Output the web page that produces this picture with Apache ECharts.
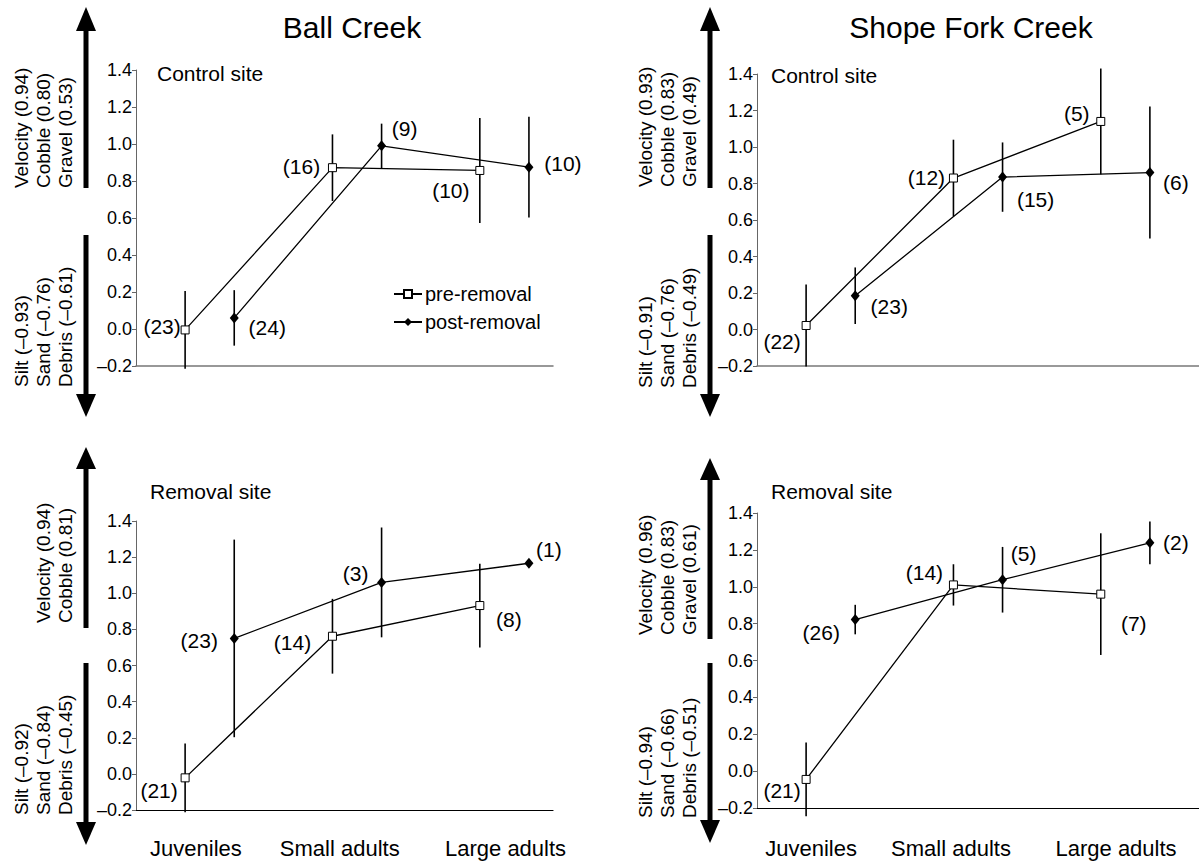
<!DOCTYPE html>
<html>
<head>
<meta charset="utf-8">
<script src="https://cdn.jsdelivr.net/npm/echarts@6/dist/echarts.min.js"></script>
<style>
  html, body { margin: 0; padding: 0; background: #fff; }
  #chart { width: 1199px; height: 861px; }
</style>
</head>
<body>
<div id="chart"></div>
<script>
// ---------------- DATA ----------------
const categories = ['Juveniles', 'Small adults', 'Large adults'];
const seriesNames = ['pre-removal', 'post-removal'];
const yTicks = { min: -0.2, max: 1.4, step: 0.2 };

// Ball Creek – control site
const ballControlPre      = [-0.005, 0.872, 0.857];
const ballControlPreErr   = [0.21, 0.18, 0.284];
const ballControlPost     = [0.06, 0.99, 0.875];
const ballControlPostErr  = [0.15, 0.12, 0.272];
const ballControlNPre     = [23, 16, 10];
const ballControlNPost    = [24, 9, 10];

// Shope Fork Creek – control site
const shopeControlPre     = [0.022, 0.83, 1.14];
const shopeControlPreErr  = [0.225, 0.21, 0.29];
const shopeControlPost    = [0.185, 0.835, 0.86];
const shopeControlPostErr = [0.155, 0.19, 0.362];
const shopeControlNPre    = [22, 12, 5];
const shopeControlNPost   = [23, 15, 6];

// Ball Creek – removal site
const ballRemovalPre      = [-0.022, 0.762, 0.932];
const ballRemovalPreErr   = [0.19, 0.207, 0.232];
const ballRemovalPost     = [0.75, 1.06, 1.166];
const ballRemovalPostErr  = [0.547, 0.304, 0];
const ballRemovalNPre     = [21, 14, 8];
const ballRemovalNPost    = [23, 3, 1];

// Shope Fork Creek – removal site
const shopeRemovalPre     = [-0.045, 1.01, 0.96];
const shopeRemovalPreErr  = [0.2, 0.112, 0.33];
const shopeRemovalPost    = [0.822, 1.038, 1.238];
const shopeRemovalPostErr = [0.08, 0.178, 0.116];
const shopeRemovalNPre    = [21, 14, 7];
const shopeRemovalNPost   = [26, 5, 2];

// Habitat loading labels (text)
const ballControlUp     = ['Velocity (0.94)', 'Cobble (0.80)', 'Gravel (0.53)'];
const ballControlDown   = ['Silt (\u20130.93)', 'Sand (\u20130.76)', 'Debris (\u20130.61)'];
const shopeControlUp    = ['Velocity (0.93)', 'Cobble (0.83)', 'Gravel (0.49)'];
const shopeControlDown  = ['Silt (\u20130.91)', 'Sand (\u20130.76)', 'Debris (\u20130.49)'];
const ballRemovalUp     = ['Velocity (0.94)', 'Cobble (0.81)'];
const ballRemovalDown   = ['Silt (\u20130.92)', 'Sand (\u20130.84)', 'Debris (\u20130.45)'];
const shopeRemovalUp    = ['Velocity (0.96)', 'Cobble (0.83)', 'Gravel (0.61)'];
const shopeRemovalDown  = ['Silt (\u20130.94)', 'Sand (\u20130.66)', 'Debris (\u20130.51)'];

// ---------------- LAYOUT (positions / styles only) ----------------
const FONT = '"Liberation Sans", Arial, Helvetica, sans-serif';
const GROUP_SHIFT = 1 / 6;   // horizontal offset of pre/post within a category band

const panels = [
  { // Ball control
    grid: { left: 136, top: 70, width: 417, height: 296 }, xMax: 3.33,
    pre: ballControlPre, preErr: ballControlPreErr, post: ballControlPost, postErr: ballControlPostErr,
    nPre: ballControlNPre, nPost: ballControlNPost,
    preOff:  [[-23, -3], [-31, -1], [-29, 20]],
    postOff: [[33, 10], [23, -17], [34, -4]],
    axisColor: '#777', axisWidth: 1.5, showCats: false
  },
  { // Shope control
    grid: { left: 757, top: 74, width: 442, height: 292 }, xMax: 3.5,
    pre: shopeControlPre, preErr: shopeControlPreErr, post: shopeControlPost, postErr: shopeControlPostErr,
    nPre: shopeControlNPre, nPost: shopeControlNPost,
    preOff:  [[-24, 16], [-27, -1], [-24, -8]],
    postOff: [[34, 11], [33, 22], [26, 10]],
    axisColor: '#777', axisWidth: 1.5, showCats: false
  },
  { // Ball removal
    grid: { left: 136, top: 521, width: 417, height: 289 }, xMax: 3.33,
    pre: ballRemovalPre, preErr: ballRemovalPreErr, post: ballRemovalPost, postErr: ballRemovalPostErr,
    nPre: ballRemovalNPre, nPost: ballRemovalNPost,
    preOff:  [[-26, 13], [-40, 6], [29, 14]],
    postOff: [[-35, 2], [-26, -9], [20, -14]],
    axisColor: '#000', axisWidth: 1.2, showCats: true, catPos: [0.907, 1.883, 3.008], catMargin: 27
  },
  { // Shope removal
    grid: { left: 757, top: 513, width: 442, height: 295 }, xMax: 3.5,
    pre: shopeRemovalPre, preErr: shopeRemovalPreErr, post: shopeRemovalPost, postErr: shopeRemovalPostErr,
    nPre: shopeRemovalNPre, nPost: shopeRemovalNPost,
    preOff:  [[-24, 11], [-29, -12], [33, 29]],
    postOff: [[-34, 13], [21, -26], [26, 0]],
    axisColor: '#000', axisWidth: 1.2, showCats: true, catPos: [0.867, 1.817, 2.937], catMargin: 29
  }
];

const sideTexts = [
  { lines: ballControlUp,    x: 76,  y: 188 },
  { lines: ballControlDown,  x: 76,  y: 387 },
  { lines: shopeControlUp,   x: 700, y: 187 },
  { lines: shopeControlDown, x: 700, y: 388 },
  { lines: ballRemovalUp,    x: 76,  y: 623 },
  { lines: ballRemovalDown,  x: 76,  y: 815 },
  { lines: shopeRemovalUp,   x: 700, y: 635 },
  { lines: shopeRemovalDown, x: 700, y: 818 }
];

// arrows: x, shaft from y1 to y2, head tip at tip (direction implied)
const arrows = [
  { x: 86,  tip: 7,   base: 31,  end: 188 },
  { x: 86,  tip: 417, base: 394, end: 235 },
  { x: 710, tip: 7,   base: 31,  end: 188 },
  { x: 710, tip: 417, base: 394, end: 235 },
  { x: 86,  tip: 447, base: 469, end: 628 },
  { x: 86,  tip: 845, base: 822, end: 663 },
  { x: 710, tip: 458, base: 480, end: 639 },
  { x: 710, tip: 843, base: 820, end: 663 }
];

const headTexts = [
  { text: 'Ball Creek', x: 352, y: 27, size: 30 },
  { text: 'Shope Fork Creek', x: 971, y: 27, size: 30 }
];
const siteTexts = [
  { text: 'Control site', x: 157, y: 73 },
  { text: 'Control site', x: 771, y: 75 },
  { text: 'Removal site', x: 150, y: 491 },
  { text: 'Removal site', x: 771, y: 491 }
];

// ---------------- BUILD ----------------
const grids = [], xAxes = [], yAxes = [], series = [];

function errorSeries(idx, xs, means, errs) {
  const data = [];
  means.forEach((m, i) => {
    if (errs[i] > 0) data.push([xs[i], m - errs[i], m + errs[i]]);
  });
  return {
    type: 'custom', xAxisIndex: idx, yAxisIndex: idx, z: 2, silent: true, clip: false,
    data: data,
    encode: { x: 0, y: [1, 2] },
    renderItem: function (params, api) {
      const x = api.value(0);
      const p1 = api.coord([x, api.value(1)]);
      const p2 = api.coord([x, api.value(2)]);
      return { type: 'line', shape: { x1: p1[0], y1: p1[1], x2: p2[0], y2: p2[1] },
               style: { stroke: '#000', lineWidth: 1.6 } };
    }
  };
}

function lineSeries(idx, name, xs, means, ns, offs, isPre) {
  return {
    type: 'line', name: name, xAxisIndex: idx, yAxisIndex: idx, z: 3, silent: true,
    symbol: isPre ? 'rect' : 'diamond',
    symbolSize: isPre ? 8 : [9, 11],
    lineStyle: { color: '#000', width: 1.3 },
    itemStyle: isPre ? { color: '#fff', borderColor: '#000', borderWidth: 1 }
                     : { color: '#000', borderColor: '#000', borderWidth: 0 },
    data: means.map((m, i) => ({
      value: [xs[i], m],
      label: {
        show: true, position: 'inside', offset: offs[i],
        formatter: '(' + ns[i] + ')',
        color: '#000', fontSize: 21, fontFamily: FONT
      }
    })),
    animation: false
  };
}

panels.forEach((p, idx) => {
  grids.push(Object.assign({ containLabel: false }, p.grid));
  const xa = {
    type: 'value', gridIndex: idx, min: 0.5, max: p.xMax,
    axisLine: { show: true, onZero: false, lineStyle: { color: p.axisColor, width: p.axisWidth } },
    axisTick: { show: false }, splitLine: { show: false },
    axisLabel: { show: false }
  };
  if (p.showCats) {
    xa.axisLabel = {
      show: true, customValues: p.catPos, margin: p.catMargin,
      color: '#000', fontSize: 22, fontFamily: FONT,
      formatter: v => categories[Math.round(v) - 1]
    };
  }
  xAxes.push(xa);
  yAxes.push({
    type: 'value', gridIndex: idx, min: yTicks.min, max: yTicks.max, interval: yTicks.step,
    axisLine: { show: true, lineStyle: { color: '#666', width: 1 } },
    axisTick: { show: true, length: 4, lineStyle: { color: '#666', width: 1 } },
    splitLine: { show: false },
    axisLabel: { color: '#000', fontSize: 18, fontFamily: FONT, margin: 4,
                 formatter: v => v.toFixed(1).replace('-', '\u2013') }
  });
  const xsPre = categories.map((c, i) => i + 1 - GROUP_SHIFT);
  const xsPost = categories.map((c, i) => i + 1 + GROUP_SHIFT);
  series.push(errorSeries(idx, xsPre, p.pre, p.preErr));
  series.push(errorSeries(idx, xsPost, p.post, p.postErr));
  series.push(lineSeries(idx, seriesNames[0], xsPre, p.pre, p.nPre, p.preOff, true));
  series.push(lineSeries(idx, seriesNames[1], xsPost, p.post, p.nPost, p.postOff, false));
});

const graphics = [];
headTexts.forEach(t => graphics.push({
  type: 'text', x: t.x, y: t.y,
  style: { text: t.text, fill: '#000', font: t.size + 'px ' + FONT, textAlign: 'center', textVerticalAlign: 'middle' }
}));
siteTexts.forEach(t => graphics.push({
  type: 'text', x: t.x, y: t.y,
  style: { text: t.text, fill: '#000', font: '21px ' + FONT, textAlign: 'left', textVerticalAlign: 'middle' }
}));
sideTexts.forEach(t => graphics.push({
  type: 'text', x: t.x, y: t.y, rotation: Math.PI / 2,
  style: { text: t.lines.join('\n'), fill: '#000', font: '19px ' + FONT, lineHeight: 22,
           textAlign: 'left', textVerticalAlign: 'bottom' }
}));
arrows.forEach(a => {
  const y1 = Math.min(a.base, a.end), y2 = Math.max(a.base, a.end);
  graphics.push({ type: 'rect', shape: { x: a.x - 2.5, y: y1, width: 5, height: y2 - y1 }, style: { fill: '#000' } });
  graphics.push({ type: 'polygon', shape: { points: [[a.x, a.tip], [a.x - 10, a.base], [a.x + 10, a.base]] }, style: { fill: '#000' } });
});

const chart = echarts.init(document.getElementById('chart'), null, { renderer: 'svg' });
chart.setOption({
  animation: false,
  backgroundColor: '#fff',
  textStyle: { fontFamily: FONT },
  grid: grids, xAxis: xAxes, yAxis: yAxes, series: series,
  legend: {
    data: [
      { name: seriesNames[0], icon: 'path://M0,5L10,5M3.5,1.5h3v7h-3z' },
      { name: seriesNames[1] }
    ].map(d => ({ name: d.name })),
    orient: 'vertical', left: 388, top: 279, itemGap: 8,
    itemWidth: 28, itemHeight: 10,
    textStyle: { color: '#000', fontSize: 20, fontFamily: FONT, padding: [0, 0, 0, -2] },
    selectedMode: false
  },
  graphic: graphics
});
</script>
</body>
</html>
